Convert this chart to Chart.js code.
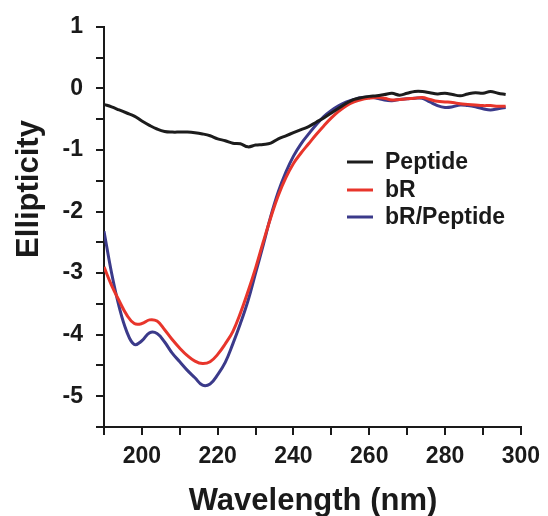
<script src="https://cdn.jsdelivr.net/npm/chart.js@4.4.7/dist/chart.umd.min.js"></script>

<style>
  body { margin: 0; background: #fff; }
  .chart-container { width: 548px; height: 516px; position: relative; }
</style>

<div class="chart-container">
  <canvas id="chart"></canvas>
</div>

<script>
  // wavelength grid (nm)
  const wavelengths = [190, 192, 194, 196, 198, 200, 202, 204, 206, 208, 210, 212, 214, 216, 218, 220, 222, 224, 226, 228,
    230, 232, 234, 236, 238, 240, 242, 244, 246, 248, 250, 252, 254, 256, 258, 260, 262, 264, 266, 268,
    270, 272, 274, 276, 278, 280, 282, 284, 286, 288, 290, 292, 294, 296]

  const peptide = [-0.26, -0.30, -0.35, -0.40, -0.45, -0.53, -0.60, -0.66, -0.70, -0.71, -0.71, -0.71, -0.72, -0.74, -0.77, -0.82, -0.85, -0.89, -0.90, -0.95,
    -0.92, -0.91, -0.89, -0.82, -0.77, -0.72, -0.67, -0.62, -0.55, -0.48, -0.40, -0.32, -0.24, -0.18, -0.15, -0.13, -0.12, -0.10, -0.08, -0.11,
    -0.08, -0.05, -0.05, -0.07, -0.09, -0.08, -0.10, -0.12, -0.09, -0.07, -0.08, -0.05, -0.08, -0.10]

  const bR = [-2.90, -3.20, -3.45, -3.68, -3.82, -3.82, -3.76, -3.78, -3.92, -4.08, -4.22, -4.34, -4.43, -4.47, -4.44, -4.32, -4.15, -3.95, -3.65, -3.30,
    -2.92, -2.50, -2.10, -1.74, -1.45, -1.22, -1.05, -0.90, -0.75, -0.61, -0.48, -0.37, -0.28, -0.22, -0.18, -0.16, -0.15, -0.16, -0.19, -0.18,
    -0.17, -0.16, -0.15, -0.18, -0.21, -0.22, -0.23, -0.25, -0.26, -0.27, -0.28, -0.28, -0.29, -0.29]

  const bRPeptide = [-2.32, -3.00, -3.55, -3.95, -4.16, -4.10, -3.97, -3.98, -4.12, -4.30, -4.44, -4.58, -4.70, -4.82, -4.80, -4.65, -4.45, -4.15, -3.82, -3.45,
    -3.00, -2.55, -2.08, -1.68, -1.36, -1.10, -0.90, -0.74, -0.59, -0.46, -0.36, -0.28, -0.22, -0.18, -0.15, -0.14, -0.16, -0.19, -0.20, -0.18,
    -0.17, -0.16, -0.16, -0.22, -0.28, -0.31, -0.30, -0.27, -0.28, -0.30, -0.33, -0.35, -0.33, -0.31]

  const seriesNames = ['Peptide', 'bR', 'bR/Peptide']
  const seriesColors = ['#1c1c1c', '#e8352b', '#3b3a8a']
  const xTickLabels = [200, 220, 240, 260, 280, 300]
  const yTickLabels = [1, 0, -1, -2, -3, -4, -5]

  const FONT = '"Liberation Sans", Arial, sans-serif'

  function toPoints(ys) {
    return wavelengths.map((x, i) => ({ x: x, y: ys[i] }))
  }

  const datasets = [peptide, bR, bRPeptide].map((ys, i) => ({
    label: seriesNames[i],
    data: toPoints(ys),
    borderColor: seriesColors[i],
    backgroundColor: seriesColors[i],
    borderWidth: 3,
    pointRadius: 0,
    tension: 0.4,
    fill: false
  }))

  // titles and legend drawn by hand so they sit where the figure has them
  const decorations = {
    id: 'decorations',
    afterDraw(chart) {
      const ctx = chart.ctx
      ctx.save()
      ctx.fillStyle = '#1a1a1a'
      ctx.font = 'bold 31px ' + FONT
      ctx.textAlign = 'center'
      ctx.textBaseline = 'alphabetic'
      ctx.fillText('Wavelength (nm)', 313, 510)

      ctx.translate(38, 189)
      ctx.rotate(-Math.PI / 2)
      ctx.fillText('Ellipticity', 0, 0)
      ctx.restore()

      // legend
      ctx.save()
      const rows = [162, 190, 217]
      ctx.font = 'bold 23px ' + FONT
      ctx.textAlign = 'left'
      ctx.textBaseline = 'middle'
      chart.data.datasets.forEach((ds, i) => {
        ctx.strokeStyle = ds.borderColor
        ctx.lineWidth = 3
        ctx.beginPath()
        ctx.moveTo(347, rows[i])
        ctx.lineTo(373, rows[i])
        ctx.stroke()
        ctx.fillStyle = '#1a1a1a'
        ctx.fillText(ds.label, 385, rows[i] + 1)
      })
      ctx.restore()
    }
  }

  const config = {
    type: 'line',
    data: { datasets: datasets },
    options: {
      responsive: true,
      maintainAspectRatio: false,
      animation: false,
      layout: { padding: { top: 24, right: 22, left: 0, bottom: 0 } },
      plugins: {
        legend: { display: false },
        tooltip: { enabled: false }
      },
      scales: {
        x: {
          type: 'linear',
          min: 190,
          max: 300,
          afterFit: (scale) => { scale.height = 89 },
          border: { display: true, color: '#1a1a1a', width: 2 },
          grid: { drawOnChartArea: false, drawTicks: true, tickLength: 8, color: '#1a1a1a', lineWidth: 2 },
          ticks: {
            stepSize: 10,
            autoSkip: false,
            maxRotation: 0,
            padding: 8,
            color: '#1a1a1a',
            font: { family: FONT, size: 23, weight: 'bold' },
            callback: (v) => xTickLabels.includes(v) ? String(v) : ''
          }
        },
        y: {
          type: 'linear',
          min: -5.5,
          max: 1,
          afterFit: (scale) => { scale.width = 104 },
          border: { display: true, color: '#1a1a1a', width: 2 },
          grid: { drawOnChartArea: false, drawTicks: true, tickLength: 8, color: '#1a1a1a', lineWidth: 2 },
          ticks: {
            stepSize: 0.5,
            autoSkip: false,
            padding: 13,
            color: '#1a1a1a',
            font: { family: FONT, size: 23, weight: 'bold' },
            callback: (v) => yTickLabels.includes(v) ? String(v) : ''
          }
        }
      }
    },
    plugins: [decorations]
  }

  const myChart = new Chart(document.getElementById('chart'), config)
</script>
